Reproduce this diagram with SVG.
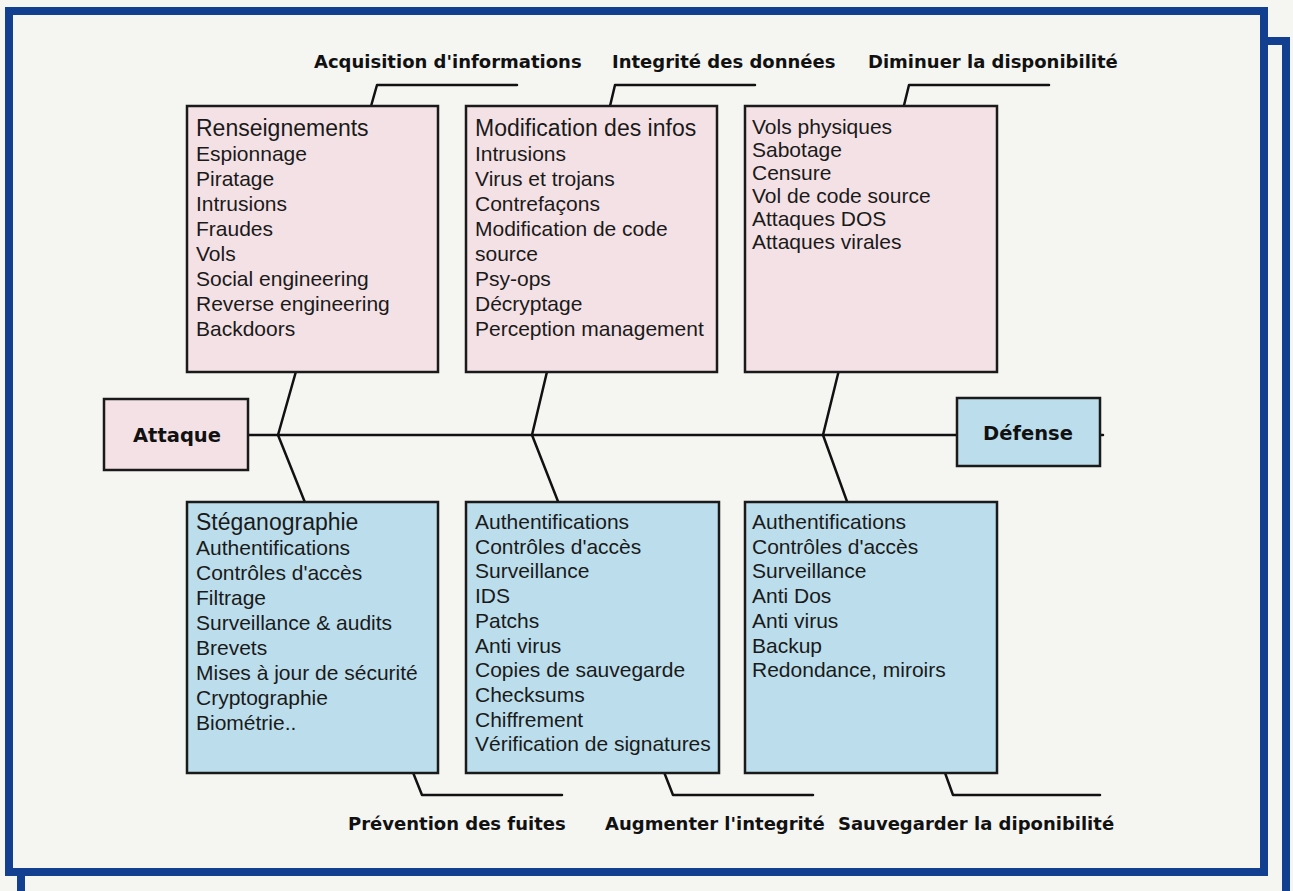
<svg xmlns="http://www.w3.org/2000/svg" width="1293" height="891" viewBox="0 0 1293 891">
<style>
.bg{fill:#f5f5f2}
.frame{fill:none;stroke:#123f8f;stroke-width:8}
.ln{fill:none;stroke:#111;stroke-width:2.5;stroke-linecap:round;stroke-linejoin:round}
.pink{fill:#f4e1e5;stroke:#1a1a1a;stroke-width:2.5}
.blue{fill:#bcdeec;stroke:#1a1a1a;stroke-width:2.5}
.t{font-family:"Liberation Sans",Arial,sans-serif;font-size:21px;fill:#1a1a1a}
.t1{font-size:23px}
.lbl{font-family:"DejaVu Sans",Verdana,sans-serif;font-weight:bold;font-size:18px;fill:#111}
.big{font-family:"DejaVu Sans",Verdana,sans-serif;font-weight:bold;font-size:19.5px;fill:#111;text-anchor:middle}
</style>
<rect class="bg" x="0" y="0" width="1293" height="891"/>
<g id="frames">
<rect class="frame" x="21" y="41" width="1265" height="900"/>
<rect x="9" y="11" width="1255" height="861" fill="#f5f5f2" stroke="#123f8f" stroke-width="8"/>
</g>
<g id="connectors">
<path class="ln" d="M248,435 H957"/>
<path class="ln" d="M1100,435 H1103"/>
<path class="ln" d="M278,435 L377,85 H517"/>
<path class="ln" d="M532,435 L615,85 H755"/>
<path class="ln" d="M823,435 L909,85 H1049"/>
<path class="ln" d="M278,435 L422,795 H562"/>
<path class="ln" d="M532,435 L673,795 H813"/>
<path class="ln" d="M823,435 L953,795 H1100"/>
</g>
<g id="labels">
<text class="lbl" x="314" y="68">Acquisition d'informations</text>
<text class="lbl" x="612" y="68">Integrité des données</text>
<text class="lbl" x="868" y="68">Diminuer la disponibilité</text>
<text class="lbl" x="348" y="830">Prévention des fuites</text>
<text class="lbl" x="605" y="830">Augmenter l'integrité</text>
<text class="lbl" x="838" y="830">Sauvegarder la diponibilité</text>
</g>
<g id="attaque">
<rect class="pink" x="104" y="399" width="144" height="71"/>
<text class="big" x="177" y="442">Attaque</text>
</g>
<g id="defense">
<rect class="blue" x="957" y="398" width="143" height="68"/>
<text class="big" x="1028" y="440">Défense</text>
</g>
<g id="acquisition">
<rect class="pink" x="187" y="106" width="251" height="266"/>
<text class="t" x="196" y="136"><tspan class="t1">Renseignements</tspan><tspan x="196" dy="25">Espionnage</tspan><tspan x="196" dy="25">Piratage</tspan><tspan x="196" dy="25">Intrusions</tspan><tspan x="196" dy="25">Fraudes</tspan><tspan x="196" dy="25">Vols</tspan><tspan x="196" dy="25">Social engineering</tspan><tspan x="196" dy="25">Reverse engineering</tspan><tspan x="196" dy="25">Backdoors</tspan></text>
</g>
<g id="integrite">
<rect class="pink" x="466" y="106" width="251" height="266"/>
<text class="t" x="475" y="136"><tspan class="t1">Modification des infos</tspan><tspan x="475" dy="25">Intrusions</tspan><tspan x="475" dy="25">Virus et trojans</tspan><tspan x="475" dy="25">Contrefaçons</tspan><tspan x="475" dy="25">Modification de code</tspan><tspan x="475" dy="25">source</tspan><tspan x="475" dy="25">Psy-ops</tspan><tspan x="475" dy="25">Décryptage</tspan><tspan x="475" dy="25">Perception management</tspan></text>
</g>
<g id="disponibilite">
<rect class="pink" x="745" y="106" width="252" height="266"/>
<text class="t" x="752" y="134"><tspan>Vols physiques</tspan><tspan x="752" dy="23">Sabotage</tspan><tspan x="752" dy="23">Censure</tspan><tspan x="752" dy="23">Vol de code source</tspan><tspan x="752" dy="23">Attaques DOS</tspan><tspan x="752" dy="23">Attaques virales</tspan></text>
</g>
<g id="prevention">
<rect class="blue" x="187" y="502" width="251" height="271"/>
<text class="t" x="196" y="530"><tspan class="t1">Stéganographie</tspan><tspan x="196" dy="25">Authentifications</tspan><tspan x="196" dy="25">Contrôles d'accès</tspan><tspan x="196" dy="25">Filtrage</tspan><tspan x="196" dy="25">Surveillance &amp; audits</tspan><tspan x="196" dy="25">Brevets</tspan><tspan x="196" dy="25">Mises à jour de sécurité</tspan><tspan x="196" dy="25">Cryptographie</tspan><tspan x="196" dy="25">Biométrie..</tspan></text>
</g>
<g id="augmenter">
<rect class="blue" x="466" y="502" width="253" height="271"/>
<text class="t" x="475" y="529"><tspan>Authentifications</tspan><tspan x="475" dy="24.7">Contrôles d'accès</tspan><tspan x="475" dy="24.7">Surveillance</tspan><tspan x="475" dy="24.7">IDS</tspan><tspan x="475" dy="24.7">Patchs</tspan><tspan x="475" dy="24.7">Anti virus</tspan><tspan x="475" dy="24.7">Copies de sauvegarde</tspan><tspan x="475" dy="24.7">Checksums</tspan><tspan x="475" dy="24.7">Chiffrement</tspan><tspan x="475" dy="24.7">Vérification de signatures</tspan></text>
</g>
<g id="sauvegarder">
<rect class="blue" x="745" y="502" width="252" height="271"/>
<text class="t" x="752" y="529"><tspan>Authentifications</tspan><tspan x="752" dy="24.7">Contrôles d'accès</tspan><tspan x="752" dy="24.7">Surveillance</tspan><tspan x="752" dy="24.7">Anti Dos</tspan><tspan x="752" dy="24.7">Anti virus</tspan><tspan x="752" dy="24.7">Backup</tspan><tspan x="752" dy="24.7">Redondance, miroirs</tspan></text>
</g>
</svg>
